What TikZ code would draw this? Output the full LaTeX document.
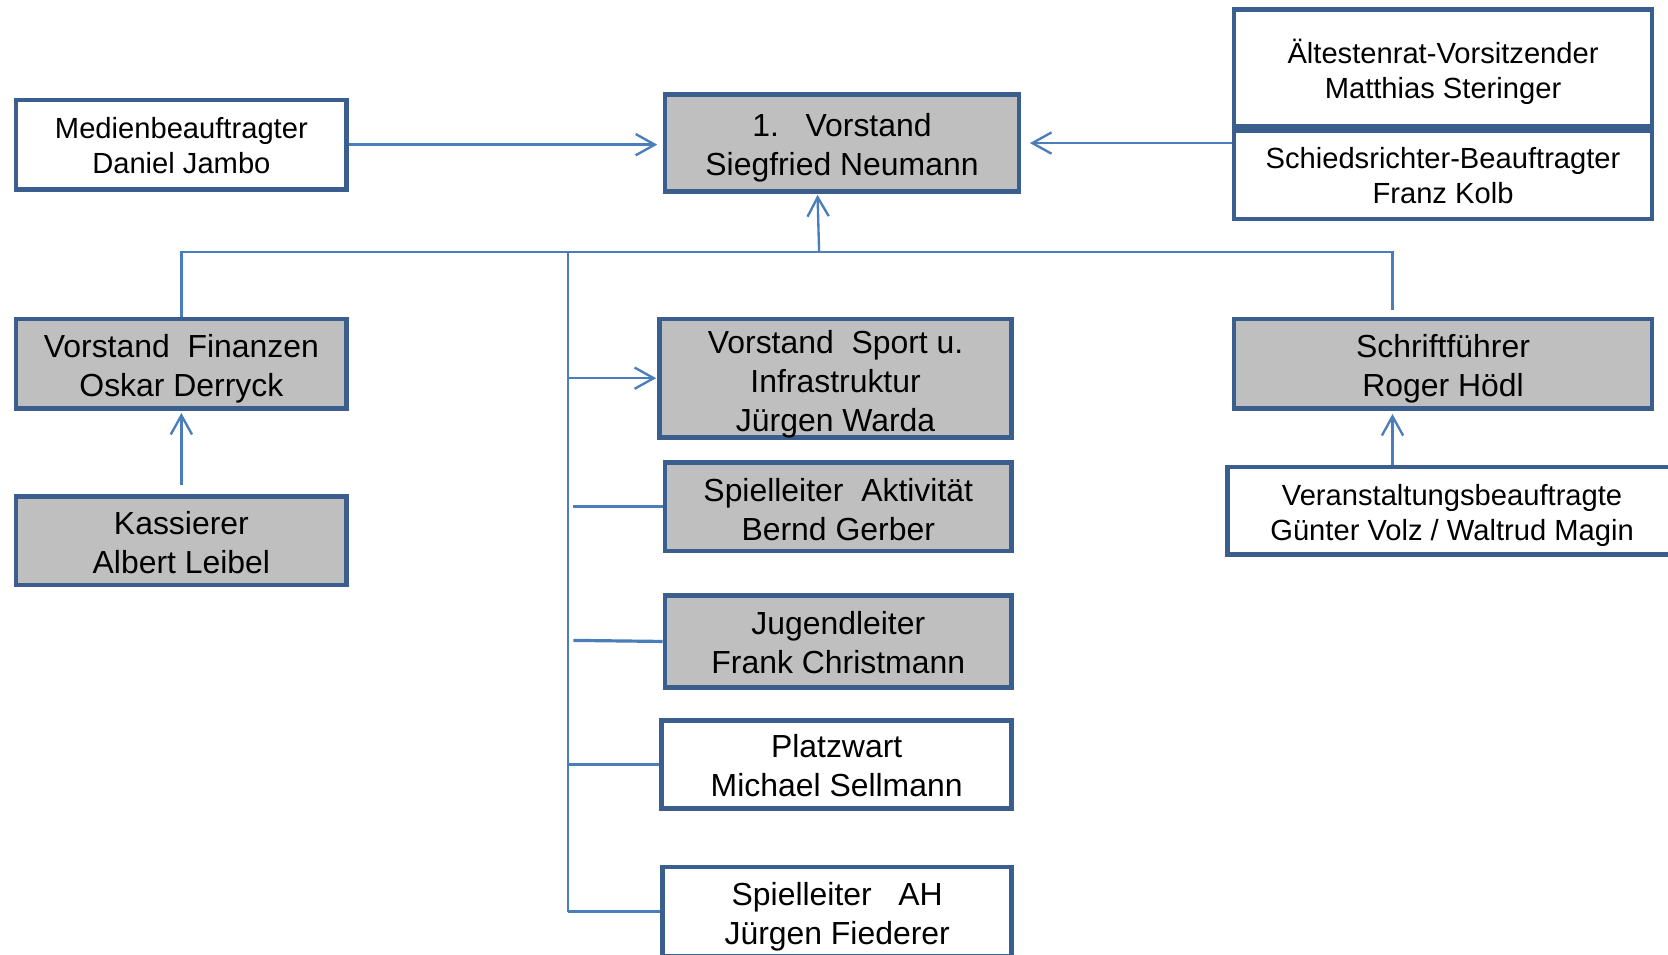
\documentclass[tikz,border=0pt]{standalone}
\usepackage{fontspec}
\setmainfont{Liberation Sans}
\usetikzlibrary{arrows.meta,calc}
\definecolor{bord}{HTML}{3A5F8E}
\definecolor{lnc}{HTML}{4A7EBB}
\definecolor{gfill}{HTML}{BFBFBF}
\newcommand\lowtxt[2][2pt]{\raisebox{-#1}[\height][\depth]{\begin{tabular}{@{}c@{}}#2\end{tabular}}}
\begin{document}
\begin{tikzpicture}[x=0.5pt,y=-0.5pt,
  box/.style={draw=bord,line width=2.2pt,rectangle,inner sep=0pt,text=black},
  gbox/.style={box,fill=gfill,font=\fontsize{15pt}{18.25pt}\selectfont},
  wbox/.style={box,fill=white,font=\fontsize{15pt}{18.25pt}\selectfont},
  sbox/.style={box,fill=white,font=\fontsize{13.7pt}{16.6pt}\selectfont},
  ln/.style={draw=lnc,line width=1.1pt},
  lnt/.style={draw=lnc,line width=1.5pt},
  arr/.style={ln,-{Straight Barb[length=9pt,width=10pt,line width=1.1pt]}}]
\useasboundingbox (0,0) rectangle (1568,897);
\fill[white] (0,0) rectangle (1568,897);
% boxes
\node[sbox,minimum width=155.5pt,minimum height=42pt] (med) at (170.5,136) {\lowtxt[2pt]{Medienbeauftragter\\Daniel Jambo}};
\node[gbox,minimum width=166.5pt,minimum height=45.5pt] (v1) at (791.5,134.5) {\lowtxt[2.25pt]{1.\ \ \ Vorstand\\Siegfried Neumann}};
\node[sbox,minimum width=196.5pt,minimum height=55pt] (ael) at (1356.5,64) {\lowtxt[2.75pt]{Ältestenrat-Vorsitzender\\Matthias Steringer}};
\node[sbox,minimum width=196.5pt,minimum height=41.5pt] (sch) at (1356.5,164.5) {\lowtxt[2pt]{Schiedsrichter-Beauftragter\\Franz Kolb}};
\node[gbox,minimum width=155.5pt,minimum height=42pt] (fin) at (170.5,342) {\lowtxt[2.5pt]{Vorstand\ \ Finanzen\\Oskar Derryck}};
\node[gbox,minimum width=155.5pt,minimum height=41.5pt] (kas) at (170.5,508.5) {\lowtxt[2.5pt]{Kassierer\\Albert Leibel}};
\node[gbox,minimum width=165.5pt,minimum height=55.5pt] (vsp) at (785.5,355.5) {\lowtxt[3pt]{Vorstand\ \ Sport u.\\Infrastruktur\\Jürgen Warda}};
\node[gbox,minimum width=163pt,minimum height=41.5pt] (sla) at (788,476.5) {\lowtxt[3pt]{Spielleiter\ \ Aktivität\\Bernd Gerber}};
\node[gbox,minimum width=163pt,minimum height=43pt] (jug) at (788,603) {\lowtxt[2.25pt]{Jugendleiter\\Frank Christmann}};
\node[wbox,minimum width=164.5pt,minimum height=41.5pt] (pla) at (786.5,718.5) {\lowtxt[2.5pt]{Platzwart\\Michael Sellmann}};
\node[wbox,minimum width=164pt,minimum height=42pt] (sah) at (787,857) {\lowtxt[2.5pt]{Spielleiter\ \ \ AH\\Jürgen Fiederer}};
\node[gbox,minimum width=196.5pt,minimum height=42pt] (schr) at (1356.5,342) {\lowtxt[2.5pt]{Schriftführer\\Roger Hödl}};
\node[sbox,minimum width=211pt,minimum height=41pt] (ver) at (1365,480) {\lowtxt[2.5pt]{Veranstaltungsbeauftragte\\Günter Volz / Waltrud Magin}};
% coordinates
\coordinate (bus) at (770,237);
\coordinate (br) at (1309,237);
\coordinate (trk) at (534,237);
% connectors
\draw[arr,shorten >=2.5pt] (med.east) -- (med.east -| v1.west);
\draw[arr,shorten >=4pt] (sch.west |- v1.east) -- (v1.east);
\draw[arr,shorten >=0.5pt] (bus) -- ([xshift=-11.5pt]v1.south);
\draw[ln] (fin.north) -- (fin.north |- bus) -- (br) -- ([yshift=3pt]br |- schr.north);
\draw[ln] (trk) -- (trk |- sah.west);
\draw[arr,shorten >=0.5pt] (trk |- vsp.west) -- (vsp.west);
\draw[lnt] ($(trk |- sla.west)+(5,0)$) -- (sla.west);
\draw[lnt] ($(trk |- jug.west)+(5,-1)$) -- (jug.west);
\draw[lnt] (trk |- pla.west) -- (pla.west);
\draw[lnt] (trk |- sah.west) -- (sah.west);
\draw[arr,shorten <=4.5pt,shorten >=1pt] (kas.north) -- (fin.south);
\draw[arr,shorten >=1.5pt] (ver.north -| br) -- (schr.south -| br);
\end{tikzpicture}
\end{document}
